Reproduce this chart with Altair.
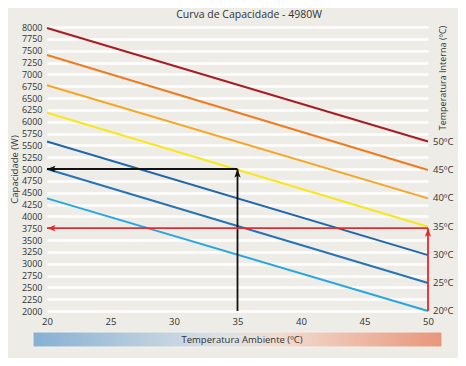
import altair as alt
import pandas as pd

# ---- data ----
series = ["50ºC", "45ºC", "40ºC", "35ºC", "30ºC", "25ºC", "20ºC"]
cap_at_20 = [7980, 7410, 6770, 6190, 5580, 5000, 4380]
cap_at_50 = [5580, 4980, 4380, 3780, 3180, 2590, 2000]
colors = ["#A81C24", "#F07B1E", "#F5A623", "#F7E71C", "#1F67AA", "#2673B5", "#28A6DE"]

x_ticks = [20, 25, 30, 35, 40, 45, 50]
y_ticks = list(range(2000, 8001, 250))

# guide arrows (start -> tip)
arrow_x = [35, 35, 50, 50]
arrow_y = [2000, 5000, 2000, 3750]
arrow_x2 = [35, 20, 50, 20]
arrow_y2 = [5000, 5000, 3750, 3750]
arrow_col = ["#111111", "#111111", "#E8262D", "#E8262D"]

title_text = "Curva de Capacidade - 4980W"
x_title = "Temperatura Ambiente (ºC)"
y_title = "Capacidade (W)"
right_title = "Temperatura Interna (ºC)"

rows = []
for s, a, b in zip(series, cap_at_20, cap_at_50):
    rows.append({"serie": s, "amb": 20, "cap": a})
    rows.append({"serie": s, "amb": 50, "cap": b})
df = pd.DataFrame(rows)
df_end = df[df["amb"] == 50]

arrows = pd.DataFrame({"x": arrow_x, "y": arrow_y, "x2": arrow_x2, "y2": arrow_y2, "c": arrow_col})
heads_up = arrows[arrows["x"] == arrows["x2"]]
heads_left = arrows[arrows["y"] == arrows["y2"]]

FONT = "Open Sans"
TXT = "#333333"

xs = alt.Scale(domain=[20, 50], nice=False, zero=False)
ys = alt.Scale(domain=[2000, 8000], nice=False, zero=False)
ax_x = alt.Axis(values=x_ticks, title=None, grid=False, domain=False, ticks=False, labelPadding=5,
                labelFontSize=9.5, labelColor=TXT, labelFont=FONT, format="d", labelFlush=False)
ax_y = alt.Axis(values=y_ticks, title=y_title, grid=True, gridColor="white", gridWidth=2.5,
                domain=False, ticks=False, labelPadding=5, labelFontSize=9, labelColor=TXT,
                labelFont=FONT, labelOverlap=False, format="d", labelFlush=False,
                titleFont=FONT, titleFontSize=9.5,
                titleFontWeight="normal", titleColor=TXT, titlePadding=2)

lines = alt.Chart(df).mark_line(strokeWidth=2).encode(
    x=alt.X("amb:Q", scale=xs, axis=ax_x),
    y=alt.Y("cap:Q", scale=ys, axis=ax_y),
    color=alt.Color("serie:N", scale=alt.Scale(domain=series, range=colors), legend=None),
)

end_labels = alt.Chart(df_end).mark_text(align="left", baseline="middle", dx=5, fontSize=9.5,
                                         font=FONT, color=TXT).encode(
    x=alt.X("amb:Q", scale=xs, axis=ax_x), y=alt.Y("cap:Q", scale=ys, axis=ax_y), text="serie:N")

shafts = alt.Chart(arrows).mark_rule(strokeWidth=1.8).encode(
    x=alt.X("x:Q", scale=xs, axis=ax_x), y=alt.Y("y:Q", scale=ys, axis=ax_y),
    x2="x2:Q", y2="y2:Q", color=alt.Color("c:N", scale=None))

up = alt.Chart(heads_up).mark_point(shape="M0,0 L-0.7,1.9 L0,1.5 L0.7,1.9 Z", size=80, filled=True,
                                    opacity=1, strokeWidth=0).encode(
    x=alt.X("x2:Q", scale=xs, axis=ax_x), y=alt.Y("y2:Q", scale=ys, axis=ax_y),
    color=alt.Color("c:N", scale=None))

left = alt.Chart(heads_left).mark_point(shape="M0,0 L1.9,-0.7 L1.5,0 L1.9,0.7 Z", size=80, filled=True,
                                        opacity=1, strokeWidth=0).encode(
    x=alt.X("x2:Q", scale=xs, axis=ax_x), y=alt.Y("y2:Q", scale=ys, axis=ax_y),
    color=alt.Color("c:N", scale=None))

one = pd.DataFrame({"a": [0]})
grad = alt.LinearGradient(gradient="linear", x1=0, x2=1, y1=0, y2=0, stops=[
    alt.GradientStop(color="#86B0D3", offset=0),
    alt.GradientStop(color="#DDE2E4", offset=0.47),
    alt.GradientStop(color="#F1DCD1", offset=0.6),
    alt.GradientStop(color="#E8967A", offset=1),
])
bar = alt.Chart(one).mark_rect(fill=grad, stroke="#F4F1EC", strokeWidth=1).encode(
    x=alt.value(-14), x2=alt.value(395), y=alt.value(305), y2=alt.value(320))
bar_text = alt.Chart(one).mark_text(text=x_title, fontSize=9.5, font=FONT, color=TXT,
                                    align="center", baseline="middle").encode(
    x=alt.value(195), y=alt.value(313))
top_title = alt.Chart(one).mark_text(text=title_text, fontSize=10.5, font=FONT, color=TXT,
                                     align="center", baseline="alphabetic").encode(
    x=alt.value(202), y=alt.value(-9))
r_title = alt.Chart(one).mark_text(text=right_title, fontSize=9, font=FONT, color=TXT, angle=270,
                                   align="center", baseline="middle").encode(
    x=alt.value(396), y=alt.value(51))

chart = alt.layer(lines, shafts, up, left, end_labels, bar, bar_text, top_title, r_title).properties(
    width=381, height=284,
    autosize=alt.AutoSizeParams(type="none"),
    padding={"left": 39, "top": 19, "right": 30, "bottom": 47},
    background="#EDECE6",
).configure_view(stroke=None)

chart.save("out.html", embed_options={"renderer": "svg", "actions": False})
